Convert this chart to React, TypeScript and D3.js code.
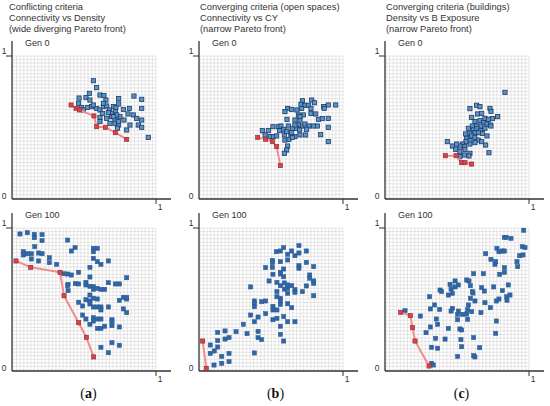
import React from "react";
import * as d3 from "d3";

type Pt = [number, number];

const titles = [
  ["Conflicting criteria", "Connectivity vs Density", "(wide diverging Pareto front)"],
  ["Converging criteria (open spaces)", "Connectivity vs CY", "(narrow Pareto front)"],
  ["Converging criteria (buildings)", "Density vs B Exposure", "(narrow Pareto front)"],
];
const genLabels = ["Gen 0", "Gen 100"];
const panelLetters = ["a", "b", "c"];

// Gen 0 populations
const a0Points: Pt[] = [
  [0.562, 0.826], [0.585, 0.777], [0.534, 0.737], [0.462, 0.704], [0.51, 0.707], [0.538, 0.69],
  [0.608, 0.725], [0.636, 0.721], [0.65, 0.69], [0.739, 0.7], [0.846, 0.718], [0.9, 0.695],
  [0.814, 0.631], [0.9, 0.631], [0.459, 0.667], [0.478, 0.638], [0.492, 0.62], [0.52, 0.638],
  [0.55, 0.643], [0.585, 0.631], [0.608, 0.62], [0.632, 0.643], [0.655, 0.648], [0.674, 0.62],
  [0.702, 0.643], [0.72, 0.638], [0.692, 0.596], [0.716, 0.608], [0.739, 0.662], [0.772, 0.624],
  [0.608, 0.568], [0.655, 0.561], [0.69, 0.573], [0.713, 0.554], [0.748, 0.573], [0.804, 0.592],
  [0.841, 0.585], [0.865, 0.561], [0.9, 0.549], [0.678, 0.526], [0.713, 0.526], [0.739, 0.514],
  [0.776, 0.549], [0.876, 0.514], [0.9, 0.498], [0.818, 0.514], [0.795, 0.479], [0.73, 0.491],
  [0.608, 0.538], [0.946, 0.427], [0.632, 0.667], [0.725, 0.585], [0.737, 0.538],
  [0.667, 0.601], [0.702, 0.573], [0.627, 0.596], [0.562, 0.655],
];
const a0Front: Pt[] = [
  [0.406, 0.655], [0.441, 0.631], [0.464, 0.62], [0.566, 0.578], [0.585, 0.502],
  [0.646, 0.498], [0.716, 0.46], [0.795, 0.413],
];

const b0Points: Pt[] = [
  [0.781, 0.69], [0.716, 0.685], [0.8, 0.671], [0.706, 0.66], [0.734, 0.653], [0.758, 0.653],
  [0.776, 0.631], [0.711, 0.631], [0.865, 0.643], [0.897, 0.655], [0.949, 0.655], [0.613, 0.631],
  [0.641, 0.624], [0.594, 0.608], [0.678, 0.62], [0.688, 0.585], [0.723, 0.585], [0.776, 0.596],
  [0.809, 0.592], [0.869, 0.631], [0.828, 0.554], [0.855, 0.559], [0.897, 0.561], [0.608, 0.554],
  [0.664, 0.549], [0.699, 0.549], [0.711, 0.507], [0.688, 0.514], [0.734, 0.521], [0.762, 0.507],
  [0.793, 0.507], [0.821, 0.507], [0.897, 0.498], [0.51, 0.502], [0.548, 0.502], [0.566, 0.507],
  [0.585, 0.484], [0.618, 0.507], [0.646, 0.491], [0.676, 0.491], [0.697, 0.479], [0.478, 0.474],
  [0.436, 0.474], [0.455, 0.444], [0.557, 0.474], [0.59, 0.444], [0.636, 0.437], [0.664, 0.432],
  [0.699, 0.444], [0.739, 0.444], [0.844, 0.446], [0.897, 0.397], [0.49, 0.432], [0.513, 0.432],
  [0.536, 0.437], [0.594, 0.408], [0.622, 0.413], [0.646, 0.427], [0.613, 0.366], [0.606, 0.338],
  [0.59, 0.315], [0.664, 0.514], [0.699, 0.573], [0.746, 0.484], [0.641, 0.46], [0.606, 0.467],
];
const b0Front: Pt[] = [
  [0.403, 0.427], [0.459, 0.413], [0.506, 0.397], [0.536, 0.362], [0.562, 0.228],
];

const c0Points: Pt[] = [
  [0.832, 0.744], [0.634, 0.653], [0.657, 0.643], [0.587, 0.629], [0.727, 0.631], [0.734, 0.61],
  [0.641, 0.592], [0.669, 0.596], [0.599, 0.568], [0.692, 0.561], [0.716, 0.554], [0.744, 0.559],
  [0.781, 0.573], [0.622, 0.538], [0.657, 0.545], [0.683, 0.531], [0.706, 0.521], [0.73, 0.514],
  [0.604, 0.507], [0.634, 0.507], [0.664, 0.507], [0.576, 0.491], [0.611, 0.479], [0.636, 0.488],
  [0.66, 0.474], [0.692, 0.491], [0.734, 0.507], [0.557, 0.451], [0.587, 0.455], [0.622, 0.46],
  [0.646, 0.46], [0.674, 0.455], [0.706, 0.437], [0.599, 0.437], [0.622, 0.427], [0.564, 0.42],
  [0.587, 0.404], [0.646, 0.408], [0.669, 0.397], [0.622, 0.39], [0.587, 0.38], [0.559, 0.397],
  [0.534, 0.38], [0.517, 0.366], [0.548, 0.362], [0.494, 0.38], [0.464, 0.366], [0.429, 0.397],
  [0.487, 0.343], [0.517, 0.326], [0.552, 0.343], [0.587, 0.315], [0.58, 0.296], [0.548, 0.303],
  [0.517, 0.291], [0.697, 0.373], [0.72, 0.319],
];
const c0Front: Pt[] = [
  [0.415, 0.298], [0.49, 0.298], [0.529, 0.249], [0.552, 0.249], [0.599, 0.239],
];

// Gen 100 populations
const a100Points: Pt[] = [
  [0.049, 0.958], [0.1, 0.967], [0.149, 0.955], [0.149, 0.932], [0.203, 0.953], [0.203, 0.911],
  [0.152, 0.869], [0.072, 0.833], [0.072, 0.81], [0.1, 0.819], [0.128, 0.819], [0.179, 0.824],
  [0.203, 0.819], [0.128, 0.782], [0.179, 0.768], [0.254, 0.791], [0.254, 0.756], [0.305, 0.744],
  [0.382, 0.915], [0.434, 0.862], [0.408, 0.838], [0.562, 0.857], [0.59, 0.857], [0.562, 0.833],
  [0.562, 0.786], [0.59, 0.763], [0.615, 0.744], [0.667, 0.768], [0.538, 0.723], [0.352, 0.678],
  [0.382, 0.676], [0.408, 0.669], [0.459, 0.688], [0.538, 0.655], [0.385, 0.603], [0.382, 0.594],
  [0.385, 0.559], [0.436, 0.608], [0.459, 0.606], [0.51, 0.617], [0.51, 0.599], [0.538, 0.589],
  [0.562, 0.587], [0.562, 0.568], [0.59, 0.575], [0.615, 0.568], [0.641, 0.568], [0.667, 0.615],
  [0.716, 0.606], [0.744, 0.606], [0.795, 0.65], [0.538, 0.528], [0.562, 0.505], [0.51, 0.495],
  [0.459, 0.477], [0.487, 0.451], [0.538, 0.486], [0.538, 0.465], [0.59, 0.5], [0.562, 0.444],
  [0.59, 0.444], [0.615, 0.444], [0.615, 0.423], [0.667, 0.444], [0.744, 0.491], [0.772, 0.512],
  [0.795, 0.5], [0.795, 0.512], [0.772, 0.43], [0.795, 0.404], [0.487, 0.387], [0.51, 0.359],
  [0.538, 0.322], [0.562, 0.369], [0.562, 0.345], [0.59, 0.359], [0.615, 0.359], [0.59, 0.293],
  [0.615, 0.293], [0.641, 0.308], [0.692, 0.354], [0.692, 0.34], [0.692, 0.312], [0.744, 0.303],
  [0.692, 0.192], [0.744, 0.174], [0.615, 0.16], [0.667, 0.122],
];
const a100Front: Pt[] = [
  [0.021, 0.768], [0.124, 0.723], [0.329, 0.688], [0.357, 0.523], [0.459, 0.333],
  [0.513, 0.23], [0.564, 0.092],
];

const b100Points: Pt[] = [
  [0.692, 0.876], [0.585, 0.862], [0.562, 0.838], [0.534, 0.833], [0.641, 0.838], [0.613, 0.815],
  [0.664, 0.805], [0.692, 0.824], [0.744, 0.838], [0.506, 0.772], [0.506, 0.756], [0.562, 0.763],
  [0.613, 0.775], [0.506, 0.723], [0.585, 0.711], [0.459, 0.721], [0.692, 0.735], [0.692, 0.716],
  [0.744, 0.758], [0.795, 0.728], [0.562, 0.688], [0.562, 0.676], [0.51, 0.674], [0.585, 0.657],
  [0.767, 0.669], [0.767, 0.646], [0.795, 0.627], [0.795, 0.61], [0.744, 0.592], [0.716, 0.552],
  [0.795, 0.523], [0.483, 0.627], [0.538, 0.617], [0.562, 0.594], [0.59, 0.613], [0.613, 0.599],
  [0.613, 0.575], [0.59, 0.57], [0.641, 0.594], [0.664, 0.566], [0.664, 0.547], [0.613, 0.54],
  [0.538, 0.552], [0.562, 0.505], [0.562, 0.486], [0.538, 0.516], [0.562, 0.462], [0.51, 0.448],
  [0.51, 0.423], [0.538, 0.423], [0.613, 0.467], [0.641, 0.439], [0.354, 0.585], [0.38, 0.486],
  [0.38, 0.469], [0.38, 0.446], [0.431, 0.481], [0.459, 0.486], [0.459, 0.397], [0.406, 0.373],
  [0.354, 0.387], [0.38, 0.34], [0.51, 0.354], [0.538, 0.364], [0.585, 0.376], [0.613, 0.34],
  [0.664, 0.34], [0.562, 0.308], [0.562, 0.251], [0.585, 0.204], [0.303, 0.322], [0.252, 0.27],
  [0.329, 0.256], [0.406, 0.272], [0.175, 0.275], [0.124, 0.265], [0.175, 0.218], [0.203, 0.228],
  [0.124, 0.207], [0.072, 0.176], [0.124, 0.162], [0.152, 0.096], [0.203, 0.117], [0.1, 0.134],
  [0.072, 0.117], [0.203, 0.059], [0.152, 0.047], [0.098, 0.035], [0.38, 0.12], [0.406, 0.228],
  [0.431, 0.214],
];
const b100Front: Pt[] = [[0.019, 0.204], [0.044, 0.012]];

const c100Points: Pt[] = [
  [0.963, 0.984], [0.828, 0.934], [0.841, 0.934], [0.874, 0.927], [0.953, 0.869], [0.972, 0.862],
  [0.776, 0.857], [0.79, 0.833], [0.814, 0.838], [0.828, 0.838], [0.697, 0.819], [0.734, 0.779],
  [0.767, 0.763], [0.762, 0.744], [0.935, 0.805], [0.958, 0.81], [0.916, 0.763], [0.921, 0.728],
  [0.828, 0.721], [0.828, 0.688], [0.613, 0.678], [0.681, 0.678], [0.795, 0.674], [0.855, 0.599],
  [0.564, 0.634], [0.448, 0.603], [0.483, 0.627], [0.506, 0.599], [0.483, 0.585], [0.59, 0.594],
  [0.58, 0.627], [0.669, 0.58], [0.688, 0.556], [0.604, 0.552], [0.608, 0.542], [0.753, 0.585],
  [0.814, 0.559], [0.772, 0.486], [0.378, 0.563], [0.389, 0.552], [0.455, 0.57], [0.464, 0.54],
  [0.436, 0.528], [0.867, 0.528], [0.844, 0.516], [0.305, 0.516], [0.59, 0.505], [0.622, 0.486],
  [0.576, 0.458], [0.692, 0.474], [0.73, 0.439], [0.79, 0.5], [0.846, 0.491], [0.34, 0.458],
  [0.464, 0.434], [0.455, 0.415], [0.506, 0.415], [0.501, 0.392], [0.571, 0.425], [0.534, 0.392],
  [0.664, 0.404], [0.599, 0.411], [0.564, 0.394], [0.31, 0.43], [0.375, 0.427], [0.352, 0.359],
  [0.361, 0.322], [0.501, 0.354], [0.571, 0.357], [0.772, 0.345], [0.767, 0.258], [0.24, 0.38],
  [0.133, 0.418], [0.31, 0.303], [0.28, 0.263], [0.347, 0.223], [0.413, 0.218], [0.517, 0.289],
  [0.529, 0.282], [0.613, 0.228], [0.524, 0.214], [0.529, 0.164], [0.436, 0.293], [0.319, 0.16],
  [0.361, 0.153], [0.655, 0.157], [0.501, 0.096], [0.613, 0.101], [0.622, 0.092], [0.319, 0.047],
  [0.331, 0.035],
];
const c100Front: Pt[] = [
  [0.103, 0.406], [0.17, 0.383], [0.186, 0.298], [0.203, 0.204], [0.301, 0.028],
];

const populations = [
  [a0Points, b0Points, c0Points],
  [a100Points, b100Points, c100Points],
];
const fronts = [
  [a0Front, b0Front, c0Front],
  [a100Front, b100Front, c100Front],
];

const W = 550;
const H = 406;
const colLeft = [13, 200, 386];
const rowTop = [56, 228];
const plotW = 143;
const plotH = 142;
const sans = "'Liberation Sans', Arial, sans-serif";
const gridTicks = d3.range(0, 41).map((i) => i / 40);

function Panel({ col, row }: { col: number; row: number }) {
  const x = d3.scaleLinear().domain([0, 1]).range([colLeft[col], colLeft[col] + plotW]);
  const y = d3.scaleLinear().domain([0, 1]).range([rowTop[row] + plotH, rowTop[row]]);
  const pts = populations[row][col];
  const front = fronts[row][col];
  const line = d3
    .line<Pt>()
    .x((d) => x(d[0]))
    .y((d) => y(d[1]));
  const ax = x(0) - 1;
  const ay = y(0) + 1;
  const s = 4.2;
  const gen0 = row === 0;

  return (
    <g>
      <rect x={x(0)} y={y(1)} width={plotW} height={plotH} fill="#fff" />
      {gridTicks.map((t) => (
        <line key={"v" + t} x1={x(t)} x2={x(t)} y1={y(0)} y2={y(1)} stroke="#cfcfcf" strokeWidth={0.5} />
      ))}
      {gridTicks.map((t) => (
        <line key={"h" + t} x1={x(0)} x2={x(1)} y1={y(t)} y2={y(t)} stroke="#cfcfcf" strokeWidth={0.5} />
      ))}
      {/* axes */}
      <line x1={ax} x2={ax} y1={y(1) - 15} y2={ay} stroke="#333" strokeWidth={1.3} />
      <line x1={ax} x2={x(1) + 15} y1={ay} y2={ay} stroke="#333" strokeWidth={1.3} />
      <line x1={ax - 6} x2={ax} y1={y(1)} y2={y(1)} stroke="#333" strokeWidth={1} />
      <line x1={x(1)} x2={x(1)} y1={ay} y2={ay + 5} stroke="#333" strokeWidth={1} />
      <text x={ax - 8} y={y(1) - 2} fontSize={8.5} fill="#333" fontFamily={sans} textAnchor="middle">1</text>
      <text x={ax - 8} y={y(0) + 1} fontSize={8.5} fill="#333" fontFamily={sans} textAnchor="middle">0</text>
      <text x={x(1) + 4} y={ay + 11} fontSize={8.5} fill="#333" fontFamily={sans} textAnchor="middle">1</text>
      <text x={ax + 13} y={y(1) - 10} fontSize={9} fill="#333" fontFamily={sans}>{genLabels[row]}</text>
      {pts.map((d, i) => (
        <rect
          key={i}
          x={x(d[0]) - s / 2}
          y={y(d[1]) - s / 2}
          width={s}
          height={s}
          fill={gen0 ? "#5a92cc" : "#2f66a6"}
          stroke={gen0 ? "#1d3a60" : "#2a5b94"}
          strokeWidth={gen0 ? 0.8 : 0.5}
        />
      ))}
      <path d={line(front) || ""} fill="none" stroke="#f28c8c" strokeWidth={2} strokeLinejoin="round" />
      {front.map((d, i) => (
        <rect
          key={"f" + i}
          x={x(d[0]) - s / 2}
          y={y(d[1]) - s / 2}
          width={s}
          height={s}
          fill="#d8424c"
          stroke="#8e2a32"
          strokeWidth={0.6}
        />
      ))}
    </g>
  );
}

export default function App() {
  return (
    <svg width={W} height={H} style={{ position: "absolute", left: 0, top: 0, background: "#fff" }}>
      {titles.map((lines, c) =>
        lines.map((t, i) => (
          <text key={c + "-" + i} x={colLeft[c] - (c === 0 ? 4 : 0)} y={10 + i * 11} fontSize={9.3} fill="#333" fontFamily={sans}>
            {t}
          </text>
        ))
      )}
      {[0, 1].map((r) => [0, 1, 2].map((c) => <Panel key={r + "-" + c} row={r} col={c} />))}
      {panelLetters.map((l, c) => (
        <text
          key={l}
          x={colLeft[c] + plotW / 2 + 4}
          y={398}
          fontSize={14}
          fontFamily="'Liberation Serif', 'Times New Roman', serif"
          textAnchor="middle"
          fill="#111"
        >
          (<tspan fontWeight="bold">{l}</tspan>)
        </text>
      ))}
    </svg>
  );
}
